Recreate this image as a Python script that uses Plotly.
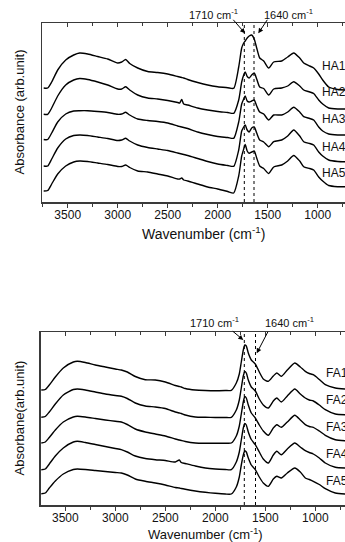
import plotly.graph_objects as go

# ---------------- data: humic acids (top panel) ----------------
wn_ha = [3740, 3700, 3660, 3600, 3520, 3440, 3380, 3300, 3200, 3100, 3000, 2960, 2920, 2880,
         2800, 2700, 2600, 2500, 2400, 2380, 2360, 2340, 2300, 2200, 2100, 2000, 1900, 1840,
         1790, 1760, 1740, 1725, 1705, 1685, 1660, 1635, 1610, 1580, 1540, 1490, 1440, 1360,
         1300, 1240, 1180, 1140, 1080, 1040, 990, 950, 890, 800, 720]

ha1 = [1.14, 1.14, 1.20, 1.32, 1.42, 1.47, 1.49, 1.48, 1.455, 1.43, 1.39, 1.40, 1.425, 1.385,
       1.34, 1.305, 1.295, 1.28, 1.255, 1.25, 1.245, 1.24, 1.225, 1.195, 1.17, 1.153, 1.143, 1.137,
       1.35, 1.54, 1.59, 1.61, 1.64, 1.66, 1.67, 1.63, 1.54, 1.44, 1.41, 1.34, 1.40, 1.41,
       1.45, 1.49, 1.44, 1.39, 1.36, 1.34, 1.28, 1.22, 1.15, 1.125, 1.12]
ha2 = [0.877, 0.877, 0.94, 1.06, 1.17, 1.22, 1.235, 1.225, 1.20, 1.17, 1.13, 1.13, 1.153, 1.12,
       1.07, 1.04, 1.03, 1.015, 0.995, 0.99, 1.025, 0.98, 0.97, 0.94, 0.92, 0.905, 0.895, 0.887,
       1.02, 1.20, 1.27, 1.30, 1.255, 1.24, 1.27, 1.29, 1.23, 1.15, 1.135, 1.07, 1.13, 1.14,
       1.16, 1.203, 1.16, 1.12, 1.10, 1.085, 1.02, 0.98, 0.94, 0.93, 0.93]
ha3 = [0.625, 0.625, 0.69, 0.80, 0.88, 0.91, 0.913, 0.913, 0.905, 0.895, 0.877, 0.88, 0.897, 0.87,
       0.83, 0.815, 0.805, 0.79, 0.76, 0.755, 0.75, 0.745, 0.735, 0.70, 0.675, 0.655, 0.645, 0.637,
       0.80, 0.98, 1.03, 1.06, 1.01, 1.00, 1.01, 1.02, 0.96, 0.90, 0.88, 0.82, 0.87, 0.87,
       0.90, 0.947, 0.90, 0.853, 0.835, 0.82, 0.75, 0.71, 0.68, 0.67, 0.67]
ha4 = [0.36, 0.36, 0.43, 0.54, 0.63, 0.665, 0.67, 0.665, 0.65, 0.635, 0.615, 0.62, 0.637, 0.61,
       0.57, 0.545, 0.53, 0.515, 0.49, 0.485, 0.48, 0.475, 0.465, 0.435, 0.405, 0.38, 0.365, 0.357,
       0.52, 0.71, 0.75, 0.77, 0.72, 0.70, 0.74, 0.75, 0.69, 0.62, 0.60, 0.553, 0.603, 0.62,
       0.66, 0.72, 0.66, 0.603, 0.585, 0.57, 0.50, 0.46, 0.42, 0.405, 0.403]
ha5 = [0.11, 0.115, 0.18, 0.28, 0.36, 0.40, 0.41, 0.405, 0.39, 0.375, 0.355, 0.355, 0.37, 0.345,
       0.31, 0.30, 0.28, 0.26, 0.23, 0.23, 0.24, 0.22, 0.21, 0.18, 0.15, 0.13, 0.105, 0.09,
       0.26, 0.46, 0.53, 0.575, 0.51, 0.487, 0.50, 0.51, 0.44, 0.36, 0.335, 0.285, 0.35, 0.37,
       0.41, 0.465, 0.41, 0.353, 0.335, 0.32, 0.25, 0.21, 0.165, 0.153, 0.153]
ha_names = ["HA1", "HA2", "HA3", "HA4", "HA5"]
ha_series = [ha1, ha2, ha3, ha4, ha5]

# ---------------- data: fulvic acids (bottom panel) ----------------
wn_fa = [3740, 3700, 3660, 3600, 3520, 3420, 3380, 3300, 3200, 3100, 3000, 2940, 2880, 2800,
         2700, 2600, 2500, 2400, 2360, 2340, 2300, 2200, 2100, 2000, 1900, 1840, 1790, 1760,
         1740, 1720, 1705, 1690, 1670, 1640, 1600, 1560, 1520, 1470, 1420, 1385, 1340, 1280,
         1205, 1150, 1100, 1060, 1020, 960, 900, 800, 700]

fa1 = [1.15, 1.155, 1.20, 1.28, 1.37, 1.43, 1.437, 1.425, 1.40, 1.38, 1.36, 1.35, 1.33, 1.285,
       1.253, 1.25, 1.23, 1.195, 1.185, 1.18, 1.165, 1.15, 1.145, 1.143, 1.145, 1.147, 1.22, 1.31,
       1.43, 1.55, 1.60, 1.59, 1.52, 1.45, 1.41, 1.33, 1.26, 1.237, 1.29, 1.32, 1.287, 1.35,
       1.42, 1.38, 1.337, 1.315, 1.303, 1.255, 1.203, 1.17, 1.16]
fa2 = [0.877, 0.885, 0.93, 1.01, 1.10, 1.155, 1.16, 1.15, 1.13, 1.11, 1.095, 1.087, 1.065, 1.02,
       0.99, 0.98, 0.965, 0.93, 0.92, 0.915, 0.90, 0.88, 0.877, 0.875, 0.875, 0.877, 0.95, 1.05,
       1.17, 1.29, 1.335, 1.32, 1.25, 1.18, 1.14, 1.06, 1.00, 0.97, 1.04, 1.07, 1.03, 1.09,
       1.16, 1.11, 1.07, 1.05, 1.04, 1.00, 0.953, 0.91, 0.903]
fa3 = [0.62, 0.63, 0.675, 0.75, 0.83, 0.88, 0.887, 0.88, 0.865, 0.85, 0.837, 0.83, 0.805, 0.76,
       0.73, 0.71, 0.69, 0.66, 0.65, 0.645, 0.635, 0.62, 0.617, 0.617, 0.618, 0.62, 0.69, 0.79,
       0.91, 1.03, 1.085, 1.07, 1.00, 0.92, 0.87, 0.80, 0.74, 0.697, 0.77, 0.803, 0.777, 0.83,
       0.897, 0.85, 0.803, 0.785, 0.777, 0.74, 0.697, 0.653, 0.643]
fa4 = [0.353, 0.36, 0.41, 0.49, 0.57, 0.63, 0.637, 0.625, 0.605, 0.585, 0.565, 0.553, 0.53, 0.49,
       0.465, 0.453, 0.445, 0.43, 0.45, 0.425, 0.415, 0.39, 0.37, 0.36, 0.355, 0.353, 0.43, 0.53,
       0.65, 0.77, 0.815, 0.80, 0.73, 0.655, 0.603, 0.53, 0.46, 0.42, 0.50, 0.537, 0.503, 0.56,
       0.62, 0.58, 0.543, 0.525, 0.51, 0.47, 0.42, 0.377, 0.37]
fa5 = [0.113, 0.12, 0.17, 0.24, 0.31, 0.355, 0.36, 0.355, 0.345, 0.335, 0.325, 0.32, 0.30, 0.26,
       0.237, 0.22, 0.20, 0.175, 0.17, 0.165, 0.157, 0.14, 0.127, 0.117, 0.11, 0.11, 0.18, 0.28,
       0.40, 0.50, 0.543, 0.53, 0.47, 0.40, 0.353, 0.28, 0.22, 0.187, 0.26, 0.287, 0.27, 0.32,
       0.37, 0.33, 0.27, 0.255, 0.237, 0.205, 0.163, 0.12, 0.11]
fa_names = ["FA1", "FA2", "FA3", "FA4", "FA5"]
fa_series = [fa1, fa2, fa3, fa4, fa5]

# reference band positions (dotted guide lines) and their labels
band_labels = ["1710 cm<sup>-1</sup>", "1640 cm<sup>-1</sup>"]
guide_ha = [1734, 1637]
guide_fa = [1710, 1598]

tick_vals = [3500, 3000, 2500, 2000, 1500, 1000]

FONT = "Liberation Sans, Arial, sans-serif"
INK = "#111111"
AX = "#3a3a3a"

fig = go.Figure()
line_style = dict(color="black", width=1.4, shape="spline", smoothing=0.6)
for nm, vals in zip(ha_names, ha_series):
    fig.add_trace(go.Scatter(x=wn_ha, y=vals, mode="lines", name=nm, line=line_style,
                             xaxis="x", yaxis="y", showlegend=False, hoverinfo="skip"))
for nm, vals in zip(fa_names, fa_series):
    fig.add_trace(go.Scatter(x=wn_fa, y=vals, mode="lines", name=nm, line=line_style,
                             xaxis="x2", yaxis="y2", showlegend=False, hoverinfo="skip"))
# empty traces so the top (mirror) axes are drawn
fig.add_trace(go.Scatter(x=[], y=[], xaxis="x3", yaxis="y", showlegend=False))
fig.add_trace(go.Scatter(x=[], y=[], xaxis="x4", yaxis="y2", showlegend=False))

top_range = [3757, 727]
bot_range = [3746, 703]
top_dom_x = [42 / 345, 1.0]
bot_dom_x = [40.7 / 345, 1.0]
top_dom_y = [1 - 202 / 542, 1 - 23 / 542]
bot_dom_y = [1 - 505 / 542, 1 - 332 / 542]


def bottom_axis(rng, dom, anchor):
    return dict(range=rng, domain=dom, anchor=anchor, tickvals=tick_vals,
                ticks="outside", ticklen=4, tickwidth=1.2, tickcolor=AX,
                minor=dict(dtick=250, tick0=0, ticks="outside", ticklen=3, tickwidth=1, tickcolor=AX),
                showline=True, linecolor=AX, linewidth=1.5, showgrid=False, zeroline=False,
                ticklabelstandoff=-3,
                tickfont=dict(family=FONT, size=12, color=INK), fixedrange=True)


def top_axis(rng, dom, anchor, over):
    return dict(range=rng, domain=dom, anchor=anchor, overlaying=over, side="top",
                tickvals=tick_vals, ticks="inside", ticklen=4, tickwidth=1.2, tickcolor=AX,
                minor=dict(dtick=250, tick0=0, ticks="inside", ticklen=3, tickwidth=1, tickcolor=AX),
                showticklabels=False, showline=True, linecolor=AX, linewidth=1.5,
                showgrid=False, zeroline=False, fixedrange=True)


def y_axis(rng, dom, anchor):
    return dict(range=rng, domain=dom, anchor=anchor, showticklabels=False, ticks="",
                showline=True, linecolor=AX, linewidth=1.5, showgrid=False, zeroline=False,
                fixedrange=True)


fig.update_layout(
    width=345, height=542, margin=dict(l=0, r=0, t=0, b=0),
    paper_bgcolor="white", plot_bgcolor="white",
    font=dict(family=FONT, color=INK),
    xaxis=bottom_axis(top_range, top_dom_x, "y"),
    yaxis=y_axis([0, 1.79], top_dom_y, "x"),
    xaxis2=bottom_axis(bot_range, bot_dom_x, "y2"),
    yaxis2=y_axis([0, 1.73], bot_dom_y, "x2"),
    xaxis3=top_axis(top_range, top_dom_x, "y", "x"),
    xaxis4=top_axis(bot_range, bot_dom_x, "y2", "x2"),
)

# dotted guide lines
for gx in guide_ha:
    fig.add_shape(type="line", xref="x", yref="y domain", x0=gx, x1=gx, y0=0, y1=1,
                  line=dict(color="black", width=1, dash="dot"))
for gx in guide_fa:
    fig.add_shape(type="line", xref="x2", yref="y2 domain", x0=gx, x1=gx, y0=0, y1=1,
                  line=dict(color="black", width=1, dash="dot"))

ann = []
# sample labels
for nm, yv in zip(ha_names, [1.363, 1.103, 0.83, 0.553, 0.293]):
    ann.append(dict(x=977, y=yv, xref="x", yref="y", text=nm, showarrow=False,
                    xanchor="left", yanchor="middle", font=dict(family=FONT, size=12, color=INK)))
for nm, yv in zip(fa_names, [1.32, 1.053, 0.78, 0.51, 0.243]):
    ann.append(dict(x=913, y=yv, xref="x2", yref="y2", text=nm, showarrow=False,
                    xanchor="left", yanchor="middle", font=dict(family=FONT, size=12, color=INK)))

# band labels above each panel
for txt, px_ in zip(band_labels, [0.620, 0.835]):
    ann.append(dict(x=px_, y=1 - 14 / 542, xref="paper", yref="paper", text=txt, showarrow=False,
                    xanchor="center", yanchor="middle", font=dict(family=FONT, size=11, color=INK)))
for txt, px_ in zip(band_labels, [0.623, 0.838]):
    ann.append(dict(x=px_, y=1 - 321.7 / 542, xref="paper", yref="paper", text=txt, showarrow=False,
                    xanchor="center", yanchor="middle", font=dict(family=FONT, size=11, color=INK)))

# arrows
arrow_style = dict(showarrow=True, arrowhead=2, arrowsize=1, arrowwidth=1, arrowcolor="black", text="")
ann.append(dict(x=1727, y=1.687, xref="x", yref="y", ax=-13, ay=-15, **arrow_style))
ann.append(dict(x=1594, y=1.687, xref="x", yref="y", ax=10, ay=-15, **arrow_style))
ann.append(dict(x=1720, y=1.65, xref="x2", yref="y2", ax=-12, ay=-10, **arrow_style))
ann.append(dict(x=1586, y=1.517, xref="x2", yref="y2", ax=12, ay=-23, **arrow_style))

# axis titles
ann.append(dict(x=203 / 345, y=1 - 233 / 542, xref="paper", yref="paper",
                text="Wavenumber (cm<sup>-1</sup>)", showarrow=False,
                xanchor="center", yanchor="middle", font=dict(family=FONT, size=14, color=INK)))
ann.append(dict(x=205 / 345, y=1 - 534 / 542, xref="paper", yref="paper",
                text="Wavenumber (cm<sup>-1</sup>)", showarrow=False,
                xanchor="center", yanchor="middle", font=dict(family=FONT, size=13, color=INK)))
ann.append(dict(x=19 / 345, y=1 - 112.5 / 542, xref="paper", yref="paper",
                text="Absorbance (arb.unit)", showarrow=False, textangle=-90,
                xanchor="center", yanchor="middle", font=dict(family=FONT, size=13, color=INK)))
ann.append(dict(x=19 / 345, y=1 - 418.5 / 542, xref="paper", yref="paper",
                text="Absorbane(arb.unit)", showarrow=False, textangle=-90,
                xanchor="center", yanchor="middle", font=dict(family=FONT, size=13, color=INK)))

fig.update_layout(annotations=ann)
fig.write_html(
    "out.html",
    config={"displayModeBar": False, "staticPlot": True},
    post_script="document.body.style.margin='0';document.body.style.overflow='hidden';",
)
